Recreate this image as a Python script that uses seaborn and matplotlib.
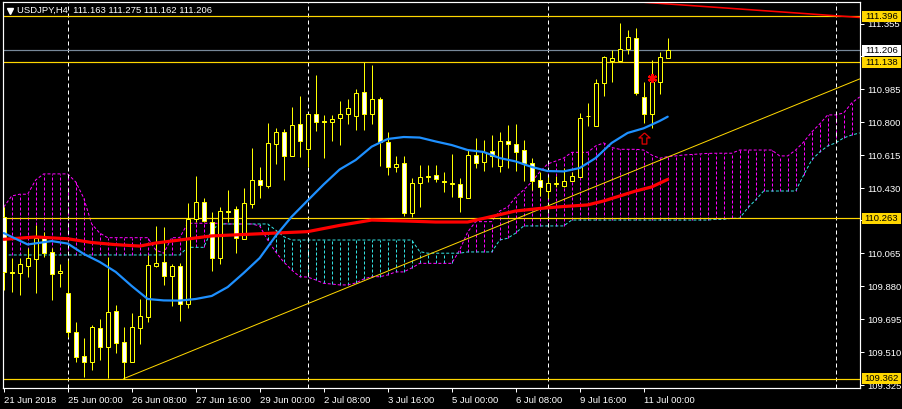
import numpy as np
import pandas as pd
import matplotlib
matplotlib.use("Agg")
import matplotlib.pyplot as plt
import matplotlib.transforms as mtransforms
from matplotlib.patches import Rectangle
from matplotlib.path import Path
import seaborn as sns

# ---------------- data ----------------
title_text = "USDJPY,H4  111.163 111.275 111.162 111.206"

opens = [110.271, 109.961, 109.953, 109.996, 110.032, 110.150, 110.071, 109.953, 109.841, 109.626,
         109.489, 109.454, 109.645, 109.541, 109.742, 109.566, 109.457, 109.648, 109.710, 109.996,
         110.015, 109.940, 109.993, 109.779, 110.256, 110.352, 110.240, 110.041, 110.303, 110.312,
         110.146, 110.342, 110.477, 110.443, 110.677, 110.745, 110.613, 110.791, 110.649, 110.846,
         110.806, 110.804, 110.823, 110.846, 110.838, 110.969, 110.846, 110.930, 110.692, 110.548,
         110.571, 110.293, 110.462, 110.494, 110.505, 110.473, 110.458, 110.453, 110.378, 110.617,
         110.576, 110.640, 110.557, 110.696, 110.679, 110.645, 110.571, 110.477, 110.417, 110.454,
         110.445, 110.473, 110.495, 110.834, 110.782, 111.023, 111.146, 111.146, 111.212, 111.272,
         110.941, 110.847, 111.029, 111.163]
highs = [110.327, 110.037, 110.037, 110.094, 110.224, 110.187, 110.094, 110.005, 110.028, 109.678,
         109.589, 109.663, 109.695, 110.046, 109.775, 109.654, 109.729, 109.809, 110.056, 110.220,
         110.215, 110.005, 110.011, 110.346, 110.499, 110.374, 110.296, 110.327, 110.421, 110.333,
         110.430, 110.655, 110.552, 110.798, 110.767, 110.761, 110.888, 110.948, 110.846, 111.066,
         110.842, 110.842, 110.920, 110.930, 110.986, 111.141, 111.122, 110.944, 110.748, 110.612,
         110.612, 110.486, 110.561, 110.561, 110.561, 110.523, 110.623, 110.486, 110.645, 110.711,
         110.701, 110.729, 110.748, 110.786, 110.791, 110.701, 110.600, 110.523, 110.492, 110.499,
         110.546, 110.523, 110.855, 110.907, 111.044, 111.174, 111.206, 111.356, 111.319, 111.328,
         111.025, 111.150, 111.197, 111.275]
lows = [109.860, 109.847, 109.832, 109.934, 109.841, 110.046, 109.803, 109.878, 109.597, 109.457,
        109.373, 109.411, 109.467, 109.365, 109.508, 109.362, 109.457, 109.557, 109.682, 109.990,
        109.888, 109.770, 109.687, 109.757, 110.240, 110.240, 109.968, 110.005, 110.241, 110.066,
        110.146, 110.318, 110.374, 110.430, 110.567, 110.477, 110.613, 110.608, 110.552, 110.754,
        110.602, 110.697, 110.673, 110.791, 110.757, 110.757, 110.791, 110.555, 110.505, 110.522,
        110.275, 110.268, 110.327, 110.467, 110.466, 110.411, 110.380, 110.296, 110.378, 110.543,
        110.527, 110.552, 110.523, 110.546, 110.529, 110.473, 110.421, 110.387, 110.374, 110.439,
        110.438, 110.471, 110.495, 110.782, 110.782, 110.948, 111.029, 111.146, 111.182, 110.954,
        110.798, 110.770, 110.958, 111.162]
closes = [109.959, 109.957, 110.004, 110.037, 110.150, 110.066, 109.948, 109.966, 109.622, 109.485,
          109.457, 109.650, 109.541, 109.734, 109.564, 109.457, 109.650, 109.714, 110.000, 110.011,
          109.940, 109.994, 109.779, 110.256, 110.352, 110.247, 110.041, 110.303, 110.299, 110.153,
          110.346, 110.477, 110.449, 110.683, 110.745, 110.613, 110.784, 110.697, 110.846, 110.804,
          110.802, 110.819, 110.846, 110.879, 110.963, 110.846, 110.930, 110.692, 110.552, 110.567,
          110.290, 110.458, 110.492, 110.498, 110.481, 110.464, 110.454, 110.383, 110.617, 110.574,
          110.636, 110.613, 110.696, 110.681, 110.636, 110.571, 110.473, 110.439, 110.458, 110.458,
          110.473, 110.499, 110.823, 110.838, 111.020, 111.165, 111.160, 111.210, 111.278, 110.967,
          110.846, 111.025, 111.165, 111.206]

# blue moving average (read at these bars)
ma_fast_bars = [0, 3, 6, 8, 10, 12, 14, 16, 18, 20, 22, 24, 26, 28, 30, 32, 34, 36, 38, 40, 42,
                44, 46, 48, 50, 52, 54, 56, 58, 60, 62, 64, 66, 68, 70, 72, 74, 76, 78, 80, 82, 83]
ma_fast = [110.179, 110.115, 110.134, 110.120, 110.062, 110.017, 109.961, 109.882, 109.809, 109.801,
           109.800, 109.809, 109.826, 109.876, 109.955, 110.039, 110.163, 110.271, 110.362, 110.452,
           110.536, 110.589, 110.664, 110.707, 110.718, 110.715, 110.693, 110.673, 110.645, 110.634,
           110.600, 110.581, 110.550, 110.527, 110.525, 110.544, 110.600, 110.685, 110.741, 110.767,
           110.808, 110.832]

# red moving average
ma_slow_bars = [0, 4, 8, 11, 14, 17, 19, 22, 26, 30, 34, 38, 42, 46, 50, 54, 58, 61, 64, 67, 70,
                73, 75, 77, 79, 81, 83]
ma_slow = [110.144, 110.157, 110.147, 110.126, 110.114, 110.106, 110.123, 110.140, 110.163, 110.171,
           110.179, 110.187, 110.222, 110.252, 110.247, 110.241, 110.241, 110.272, 110.303, 110.317,
           110.328, 110.337, 110.359, 110.387, 110.415, 110.438, 110.480]

# Ichimoku cloud spans (one value per bar, incl. 24 future bars)
span_a = [110.325, 110.387, 110.397, 110.397, 110.477, 110.511, 110.511, 110.511, 110.511, 110.466,
          110.376, 110.230, 110.179, 110.153, 110.153, 110.153, 110.153, 110.153, 110.153, 110.084,
          110.066, 110.153, 110.153, 110.234, 110.234, 110.234, 110.234, 110.234, 110.230, 110.230,
          110.230, 110.230, 110.219, 110.140, 110.073, 110.017, 109.972, 109.934, 109.932, 109.916,
          109.897, 109.893, 109.888, 109.888, 109.899, 109.921, 109.934, 109.934, 109.944, 109.961,
          109.961, 109.983, 110.009, 110.009, 110.009, 110.009, 110.009, 110.084, 110.185, 110.243,
          110.243, 110.243, 110.303, 110.325, 110.381, 110.421, 110.466, 110.522, 110.567, 110.583,
          110.600, 110.632, 110.632, 110.632, 110.668, 110.685, 110.659, 110.649, 110.649, 110.649,
          110.645, 110.617, 110.599, 110.608, 110.612, 110.617, 110.620, 110.623, 110.626, 110.627,
          110.627, 110.627, 110.645, 110.645, 110.645, 110.645, 110.645, 110.612, 110.612, 110.645,
          110.690, 110.746, 110.791, 110.842, 110.842, 110.853, 110.909, 110.943]
span_b = [110.056, 110.056, 110.056, 110.056, 110.056, 110.056, 110.056, 110.056, 110.056, 110.056,
          110.056, 110.056, 110.056, 110.056, 110.056, 110.056, 110.056, 110.056, 110.056, 110.056,
          110.056, 110.056, 110.056, 110.099, 110.099, 110.099, 110.196, 110.230, 110.230, 110.230,
          110.230, 110.230, 110.230, 110.230, 110.196, 110.159, 110.140, 110.140, 110.140, 110.140,
          110.140, 110.140, 110.140, 110.140, 110.140, 110.140, 110.140, 110.140, 110.140, 110.140,
          110.140, 110.140, 110.075, 110.066, 110.066, 110.066, 110.066, 110.066, 110.073, 110.073,
          110.073, 110.073, 110.140, 110.150, 110.179, 110.219, 110.219, 110.219, 110.219, 110.219,
          110.219, 110.252, 110.252, 110.252, 110.252, 110.252, 110.252, 110.252, 110.252, 110.252,
          110.252, 110.252, 110.252, 110.252, 110.252, 110.252, 110.252, 110.252, 110.252, 110.256,
          110.256, 110.262, 110.262, 110.320, 110.365, 110.415, 110.415, 110.415, 110.415, 110.415,
          110.505, 110.589, 110.634, 110.668, 110.685, 110.713, 110.729, 110.741]

xtick_bars = [0, 8, 16, 24, 32, 40, 48, 56, 64, 72, 80]
xtick_labels = ["21 Jun 2018", "25 Jun 00:00", "26 Jun 08:00", "27 Jun 16:00", "29 Jun 00:00",
                "2 Jul 08:00", "3 Jul 16:00", "5 Jul 00:00", "6 Jul 08:00", "9 Jul 16:00",
                "11 Jul 00:00"]
# scale ticks; the two hidden behind price boxes carry no visible text
ytick_values = [111.355, 111.170, 110.985, 110.800, 110.615, 110.430, 110.250, 110.065,
                109.880, 109.695, 109.510, 109.325]
ytick_labels = ["111.355", "", "110.985", "110.800", "110.615", "110.430", "",
                "110.065", "109.880", "109.695", "109.510", "109.325"]

level_prices = [111.396, 111.138, 110.263, 109.362]
bid_price = 111.206
separator_bars = [8, 38, 68, 104]

trend_bars = [15, 107]
trend_prices = [109.362, 111.044]
resist_bars = [82, 106.7]
resist_prices = [111.468, 111.390]
star_bar, star_price = 81, 111.050
arrow_bar, arrow_price = 80, 110.710

# ---------------- style ----------------
sns.set_theme(style="dark")
plt.rcParams['font.family'] = ['Liberation Sans', 'DejaVu Sans']

YEL = '#FFFF00'
GOLD = '#FFD700'
MAG = '#FF00FF'
CYAN = '#33E0E0'
BLUE = '#1E90FF'
RED = '#FF0000'
GREY = '#778899'
PX = 0.72  # one pixel in points at 100 dpi

W, H = 903, 409
L, R, T, B = 2.7, 860.0, 2.3, 388.0
fig = plt.figure(figsize=(W / 100, H / 100), dpi=100, facecolor='black')
ax = fig.add_axes([L / W, 1 - B / H, (R - L) / W, (B - T) / H])
ax.set_facecolor('black')
ax.grid(False)
ymin, ymax = 109.3095, 111.474
ax.set_xlim(-0.125, 107.04)
ax.set_ylim(ymin, ymax)
per_px = (ymax - ymin) / (B - T)

def afrac(px, py):
    return ((px - L) / (R - L), (B - py) / (B - T))

# cloud hatching + boundaries
kc = np.arange(len(span_a))
a = np.array(span_a)
b = np.array(span_b)
up = a >= b
dash = (0, (3, 2))
ax.vlines(kc[up], b[up], a[up], colors=MAG, linestyles=[dash], linewidth=PX, zorder=1)
ax.vlines(kc[~up], a[~up], b[~up], colors=CYAN, linestyles=[dash], linewidth=PX, zorder=1)
ax.plot(kc, a, color=MAG, lw=PX, ls=dash, zorder=1.2)
ax.plot(kc, b, color=CYAN, lw=PX, ls=dash, zorder=1.2)

# period separators
for s in separator_bars:
    ax.axvline(s, color='white', lw=PX, ls=(0, (4, 3)), zorder=1.5)

# horizontal levels
for p in level_prices:
    ax.axhline(p, color=GOLD, lw=PX * 1.2, zorder=2)
ax.axhline(bid_price, color=GREY, lw=PX * 1.2, zorder=2)

# trend lines
ax.plot(trend_bars, trend_prices, color=GOLD, lw=PX, zorder=2.1)
ax.axline((resist_bars[0], resist_prices[0]), (resist_bars[1], resist_prices[1]),
          color=RED, lw=PX * 1.6, zorder=2.1)

# candles
k = np.arange(len(opens))
o, h, lo, c = map(np.array, (opens, highs, lows, closes))
ax.vlines(k, lo, h, colors=YEL, linewidth=PX, zorder=3)
bear = c < o
bottoms = np.minimum(o, c)
heights = np.maximum(np.abs(c - o), 0.0005)
ax.bar(k, heights, bottom=bottoms, width=0.5,
       color=np.where(bear, 'white', 'black'), edgecolor=YEL, linewidth=PX, zorder=4)

# moving averages (seaborn)
df_fast = pd.DataFrame({'bar': ma_fast_bars, 'price': ma_fast})
df_slow = pd.DataFrame({'bar': ma_slow_bars, 'price': ma_slow})
sns.lineplot(data=df_slow, x='bar', y='price', ax=ax, color=RED, lw=2.3, zorder=5)
sns.lineplot(data=df_fast, x='bar', y='price', ax=ax, color=BLUE, lw=1.6, zorder=5)
ax.set_xlabel('')
ax.set_ylabel('')

# signal markers
ax.plot([star_bar], [star_price], marker=(6, 2, 0), ms=6.5, mew=1.6, color=RED, zorder=6)
arrow = Path([(0, 1), (-1, 0.1), (-0.42, 0.1), (-0.42, -1), (0.42, -1), (0.42, 0.1), (1, 0.1), (0, 1)])
ax.plot([arrow_bar], [arrow_price], marker=arrow, ms=8, mfc='none', mec='#E00000', mew=0.9, zorder=6)

# axes / ticks
for sp in ax.spines.values():
    sp.set_color('white')
    sp.set_linewidth(PX * 1.2)
ax.yaxis.tick_right()
ax.set_yticks(ytick_values, ytick_labels)
ax.set_xticks(xtick_bars, xtick_labels)
for lab in ax.get_xticklabels():
    lab.set_horizontalalignment('left')
ax.tick_params(axis='y', colors='white', length=3, width=PX, pad=2, labelsize=6.8,
               right=True, left=False)
ax.tick_params(axis='x', colors='white', length=3, width=PX, pad=2.5, labelsize=6.8,
               bottom=True)

# price boxes on the right scale
trans = mtransforms.blended_transform_factory(ax.transAxes, ax.transData)
bx0 = (862 - L) / (R - L)
bw = 39 / (R - L)
bh = 11 * per_px
for p, fc in [(level_prices[0], GOLD), (bid_price, 'white'), (level_prices[1], GOLD),
              (level_prices[2], GOLD), (level_prices[3], GOLD)]:
    ax.add_patch(Rectangle((bx0, p - bh / 2), bw, bh, transform=trans, facecolor=fc,
                           edgecolor='none', clip_on=False, zorder=10))
    ax.text(bx0 + bw / 2, p, f"{p:.3f}", transform=trans, ha='center', va='center',
            fontsize=6.8, color='black', clip_on=False, zorder=11)

# header
tx, ty = afrac(9.7, 10.8)
ax.plot([tx], [ty], marker='v', ms=4.5, color='white', transform=ax.transAxes,
        clip_on=False, zorder=12)
hx, hy = afrac(17.3, 10.8)
ax.text(hx, hy, title_text, transform=ax.transAxes, ha='left', va='center',
        fontsize=6.8, color='white', zorder=12)

fig.savefig('out.png', dpi=100, facecolor='black')
